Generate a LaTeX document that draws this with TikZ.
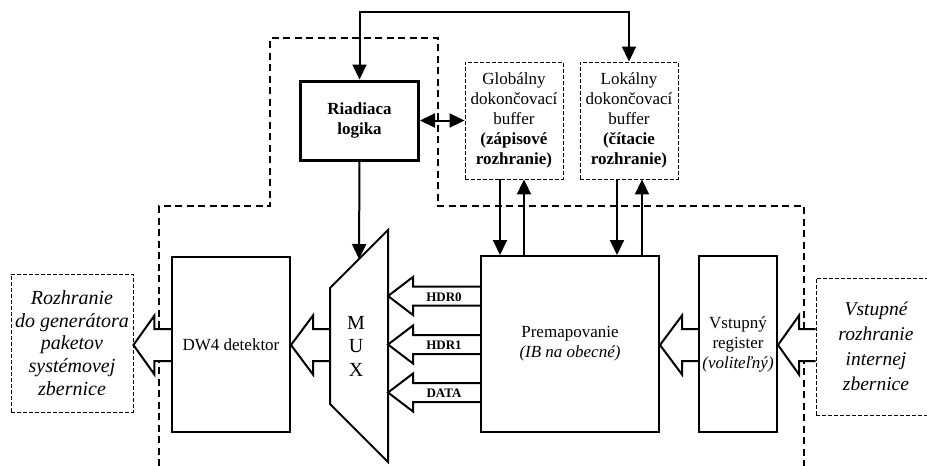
\documentclass[tikz,border=0pt]{standalone}
\usepackage{fontspec}
\setmainfont{Liberation Serif}
\usetikzlibrary{arrows.meta,calc}
\pgfdeclarelayer{background}
\pgfsetlayers{background,main}
\newcommand{\myblockarrow}[6]{% #1 source, #2 target, #3 y centre, #4 head length, #5 head half, #6 shaft half
  \draw[barr] ($(#1 |- 0,#3)+(0,-#6)$) -- ($(#2 |- 0,#3)+(#4,-#6)$) -- ($(#2 |- 0,#3)+(#4,-#5)$)
    -- (#2 |- 0,#3) -- ($(#2 |- 0,#3)+(#4,#5)$) -- ($(#2 |- 0,#3)+(#4,#6)$) -- ($(#1 |- 0,#3)+(0,#6)$);}
\begin{document}
\begin{tikzpicture}[x=1pt,y=-1pt,
  box/.style={draw, line width=2pt, inner sep=0pt, align=center},
  dbox/.style={draw, line width=0.9pt, dash pattern=on 4pt off 2pt, inner sep=0pt, align=center},
  conn/.style={line width=2pt, -{Triangle[length=15pt,width=14pt]}},
  dconn/.style={line width=2pt, {Triangle[length=15pt,width=14pt]}-{Triangle[length=15pt,width=14pt]}},
  bound/.style={line width=2pt, dash pattern=on 7pt off 4.5pt},
  barr/.style={draw, fill=white, line width=2pt, line join=miter},
  lbl/.style={font=\fontsize{13}{15}\selectfont\bfseries, inner sep=0pt}
]
\useasboundingbox (0,0) rectangle (927,466);
\clip (0,0) rectangle (927,466);

% nodes
\node[box, line width=3pt, minimum width=118pt, minimum height=79pt,
      font=\fontsize{17}{20}\selectfont\bfseries] (rl) at (359.5,120.5) {Riadiaca\\logika};
\node[dbox, minimum width=98pt, minimum height=117pt, font=\fontsize{17}{20}\selectfont] (gb) at (514,120.5)
  {Globálny\\dokončovací\\buffer\\\textbf{(zápisové}\\\textbf{rozhranie)}};
\node[dbox, minimum width=98pt, minimum height=117pt, font=\fontsize{17}{20}\selectfont] (lb) at (629,120.5)
  {Lokálny\\dokončovací\\buffer\\\textbf{(čítacie}\\\textbf{rozhranie)}};
\node[box, minimum width=118pt, minimum height=175pt, font=\fontsize{17}{20}\selectfont] (dw) at (231,344.5) {DW4 detektor};
\node[box, minimum width=178pt, minimum height=176pt, font=\fontsize{17}{20}\selectfont] (pm) at (570,344)
  {Premapovanie\\\textit{(IB na obecné)}};
\node[box, minimum width=78pt, minimum height=176pt, font=\fontsize{17}{20}\selectfont] (vr) at (738,344)
  {Vstupný\\register\\\textit{(voliteľný)}};
\node[dbox, minimum width=122pt, minimum height=138pt, font=\fontsize{20}{22.8}\selectfont\itshape] (rz) at (72,343)
  {Rozhranie\\do generátora\\paketov\\systémovej\\zbernice};
\node[dbox, minimum width=120pt, minimum height=137pt, font=\fontsize{19.5}{25}\selectfont\itshape] (vi) at (876,346.5)
  {Vstupné\\rozhranie\\internej\\zbernice};

% MUX
\coordinate (mTL) at (330,288);
\coordinate (mTR) at (388,230);
\coordinate (mBR) at (388,462);
\coordinate (mBL) at (330,404);
\coordinate (muxin) at (359,259);
\draw[line width=2pt, line join=miter] (mTL) -- (mTR) -- (mBR) -- (mBL) -- cycle;
\node[font=\fontsize{20}{23.5}\selectfont, align=center, inner sep=0pt] (mux) at (356,346) {M\\U\\X};

\begin{pgfonlayer}{background}
  \draw[bound] (159,466) -- (159,206) -- (270,206) -- (270,38) -- (438,38) -- (438,206) -- (804,206) -- (804,466);
  \myblockarrow{dw.west}{rz.east}{345}{21}{29.5}{16}
  \myblockarrow{mTL}{dw.east}{345}{22}{29.5}{16}
  \myblockarrow{pm.west}{mTR}{296}{25}{19}{9.5}
  \myblockarrow{pm.west}{mTR}{344.5}{25}{19}{9.5}
  \myblockarrow{pm.west}{mTR}{392.5}{25}{19}{9.5}
  \myblockarrow{vr.west}{pm.east}{345}{22}{29.5}{16}
  \myblockarrow{vi.west}{vr.east}{345}{21}{29.5}{16}
\end{pgfonlayer}

\node[lbl] (h0) at (444,297) {HDR0};
\node[lbl] (h1) at (444,345.5) {HDR1};
\node[lbl] (hd) at (444,393.5) {DATA};

% connectors
\draw[dconn] (rl.north) -- ++(0,-67.5) -| (lb.north);
\draw[conn] (rl.south) -- (muxin);
\draw[dconn] (rl.east) -- (gb.west);
\draw[conn] ([xshift=-14pt]gb.south) -- ([xshift=-14pt]gb.south |- pm.north);
\draw[conn] ([xshift=10pt]gb.south |- pm.north) -- ([xshift=10pt]gb.south);
\draw[conn] ([xshift=-12pt]lb.south) -- ([xshift=-12pt]lb.south |- pm.north);
\draw[conn] ([xshift=13pt]lb.south |- pm.north) -- ([xshift=13pt]lb.south);
\end{tikzpicture}
\end{document}
